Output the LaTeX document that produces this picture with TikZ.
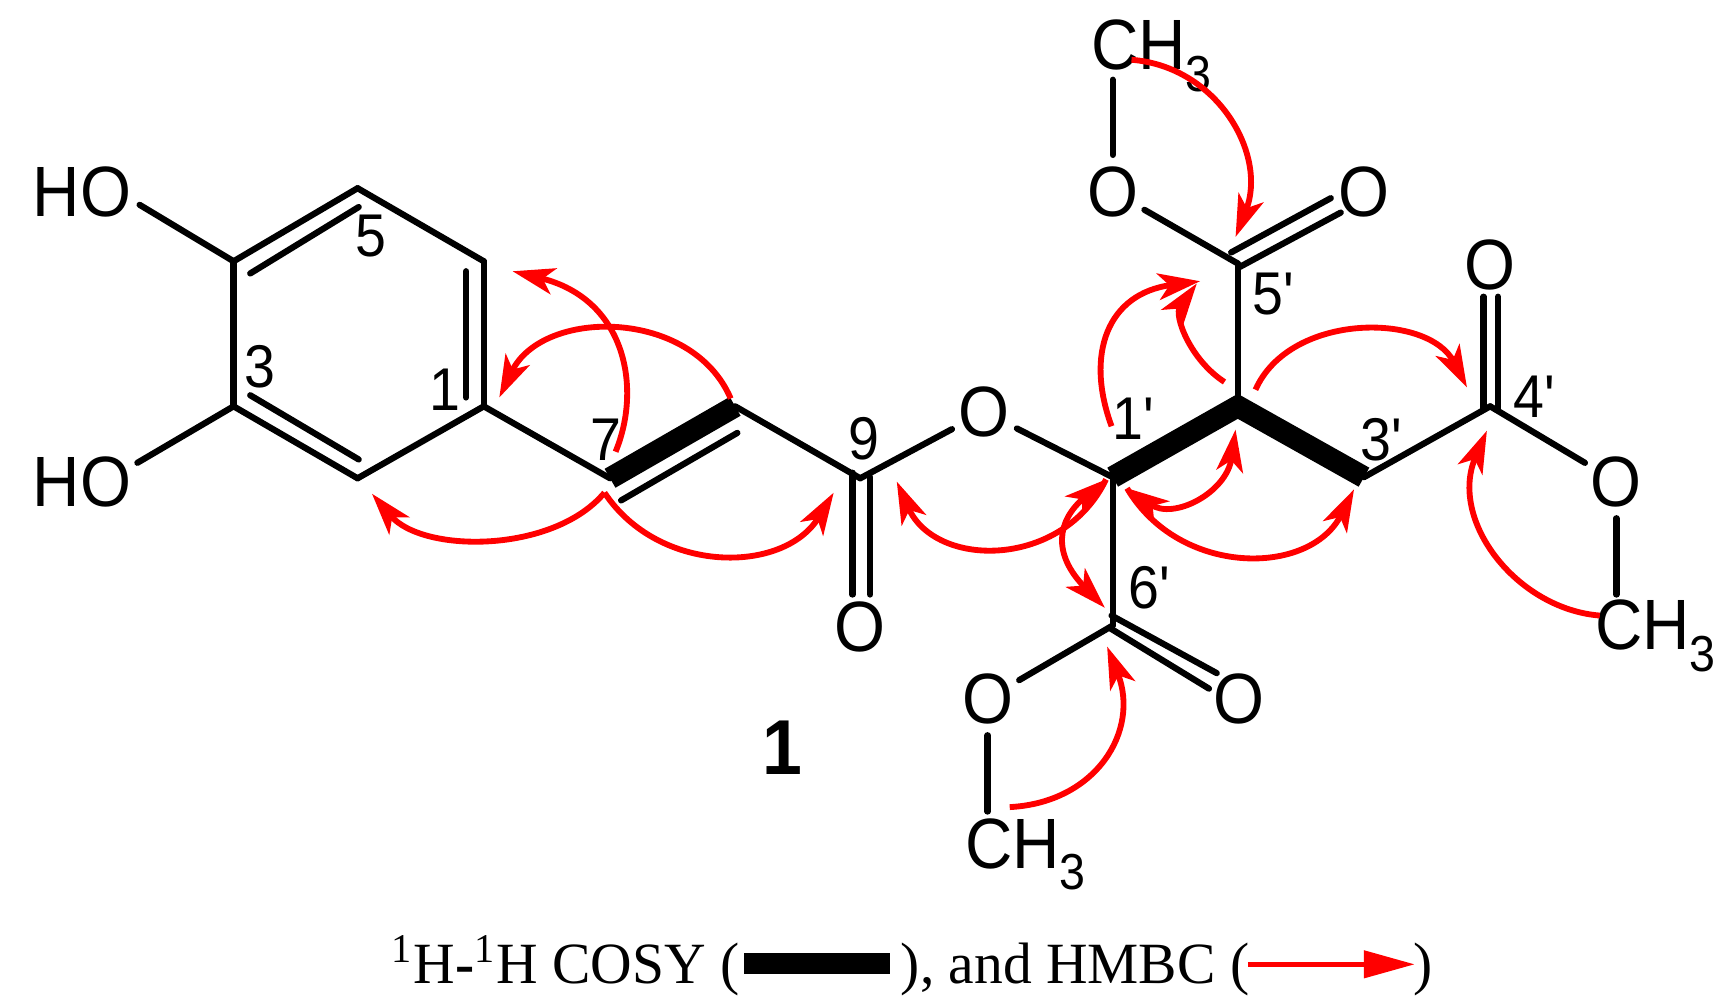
\documentclass[tikz,border=0pt]{standalone}
\usepackage{xcolor}
\usepackage{fontspec}
\usepackage{tikz}
\usetikzlibrary{arrows.meta}
\setmainfont[FakeStretch=0.985]{Liberation Serif}
\newfontfamily\chemfont[FakeStretch=0.92]{Liberation Sans}
\newcommand{\methyl}{CH\raisebox{-0.3em}{\fontsize{13}{13}\selectfont 3}}

\begin{document}
\begin{tikzpicture}[x=0.01cm, y=-0.01cm,
    every node/.style={inner sep=0pt},
    bond/.style={line width=1.6pt, line cap=round},
    cosy/.style={line width=5.6pt},
    hmbc/.style={line width=1.5pt, red},
    tipend/.style={-{Stealth[length=0.38cm, width=0.24cm, inset=0.1cm]}},
    tipboth/.style={{Stealth[length=0.38cm, width=0.24cm, inset=0.1cm]}-{Stealth[length=0.38cm, width=0.24cm, inset=0.1cm]}},
    oxygen/.style={circle, minimum size=0.62cm, font=\chemfont\fontsize{18.3}{20}\selectfont},
    atomlabel/.style={font=\chemfont\fontsize{18.3}{20}\selectfont},
    numlabel/.style={font=\chemfont\fontsize{15.5}{17}\selectfont},
    caption/.style={font=\fontsize{15}{18}\selectfont, anchor=base west}]
    \useasboundingbox (0,0) rectangle (1568,906);

    % Carbon atoms
    \foreach \nm/\x/\y in {c1/437/367, c2/323/432, c3/211/367, c4/211/236, c5/323/170, c6/437/236,
        c7/551/432, c8/664/367, c9/777/432, c1p/1005/431, c2p/1118/367, c3p/1232/431,
        c4p/1346/367, c5p/1118/238, c6p/1005/565}
        \coordinate (\nm) at (\x,\y);

    % Oxygen atoms and end groups
    \node[oxygen] (o9) at (777,566) {O};
    \node[oxygen] (oe) at (889,372) {O};
    \node[oxygen] (o5a) at (1005,173) {O};
    \node[oxygen] (o5b) at (1232,173) {O};
    \node[oxygen] (o4a) at (1346,239) {O};
    \node[oxygen] (o4b) at (1460,435) {O};
    \node[oxygen] (o6a) at (892,631) {O};
    \node[oxygen] (o6b) at (1119,631) {O};
    \node[atomlabel] (ho4) at (74,173) {HO};
    \node[atomlabel] (ho3) at (74,435) {HO};
    \node[atomlabel, anchor=base west] (me5) at (985,63) {\methyl};
    \node[atomlabel, anchor=base west] (me4) at (1440,587) {\methyl};
    \node[atomlabel, anchor=base west] (me6) at (871,784) {\methyl};
    \coordinate (me5end) at (1005,72);
    \coordinate (me4end) at (1460,537);
    \coordinate (me6end) at (892,733);

    % Single bonds
    \foreach \a/\b in {c1/c2, c3/c4, c5/c6, c1/c7, c8/c9, c9/oe, oe/c1p, c1p/c6p, c2p/c5p,
        c3p/c4p, c4p/o4b, o4b/me4end, o5a/c5p, o5a/me5end, c6p/o6a, o6a/me6end}
        \draw[bond] (\a) -- (\b);
    \draw[bond] (c3) -- ([shift={(5,-17)}]ho3.east);
    \draw[bond] (c4) -- ([shift={(7,12)}]ho4.east);

    % Double bonds, outer and inner lines
    \foreach \a/\b in {c1/c6, c2/c3, c4/c5}
        \draw[bond] (\a) -- (\b);
    \foreach \nm/\x/\y in {d1a/421/245, d1b/421/359, d2a/226/357, d2b/324/415, d3a/226/247, d3b/324/187,
        d4a/561/452, d4b/666/391, d5a/770/427, d5b/770/537, d6a/786/431, d6b/786/537,
        d7a/1112/228, d7b/1202/179, d8a/1120/241, d8b/1211/192,
        d9a/1340/369, d9b/1340/268, d10a/1353/369, d10b/1353/268,
        d11a/1002/567, d11b/1092/622, d12a/1004/556, d12b/1099/608}
        \coordinate (\nm) at (\x,\y);
    \foreach \a/\b in {d1a/d1b, d2a/d2b, d3a/d3b, d4a/d4b, d5a/d5b, d6a/d6b,
        d7a/d7b, d8a/d8b, d9a/d9b, d10a/d10b, d11a/d11b, d12a/d12b}
        \draw[bond] (\a) -- (\b);

    % COSY bonds
    \draw[cosy] (c7) -- (c8);
    \draw[cosy, miter limit=4] (c1p) -- (c2p) -- (c3p);

    % Atom numbers
    \foreach \nm/\x/\y/\txt in {n5/335/213/5, n3/235/331/3, n1/402/352/1, n7/547/397/7, n9/780/396/9,
        n1p/1024/378/1', n5p/1150/266/5', n4p/1386/358/4', n3p/1248/397/3', n6p/1038/531/6'}
        \node[numlabel] (\nm) at (\x,\y) {\txt};

    % End points of the HMBC arrows
    \foreach \nm/\x/\y in {h7a/556/408, h5a/463/245, h8a/660/360, h1a/451/359, h7b/546/445, h2a/336/446,
        h9a/753/445, h5b/1022/54, h5c/1116/214, h1b/1004/385, h5d/1084/254, h2b/1106/345, h5e/1081/256,
        h2c/1134/352, h4a/1325/350, h2d/1116/388, h1c/1018/441, h3a/1223/442, h1d/999/433, h9b/810/435,
        h6a/998/549, h6b/912/729, h6c/1000/584, h4b/1445/556, h4c/1343/389}
        \coordinate (\nm) at (\x,\y);

    % HMBC arrows
    \draw[hmbc, tipend] (h7a) .. controls (580,350) and (565,270) .. (h5a);
    \draw[hmbc, tipend] (h8a) .. controls (625,278) and (490,278) .. (h1a);
    \draw[hmbc, tipend] (h7b) .. controls (500,500) and (382,500) .. (h2a);
    \draw[hmbc, tipend] (h7b) .. controls (595,519) and (708,519) .. (h9a);
    \draw[hmbc, tipend] (h5b) .. controls (1100,60) and (1145,140) .. (h5c);
    \draw[hmbc, tipend] (h1b) .. controls (980,320) and (1000,265) .. (h5d);
    \draw[hmbc, tipend] (h2b) .. controls (1075,325) and (1060,285) .. (h5e);
    \draw[hmbc, tipend] (h2c) .. controls (1165,282) and (1290,282) .. (h4a);
    \draw[hmbc, tipboth] (h2d) .. controls (1108,445) and (1060,470) .. (h1c);
    \draw[hmbc, tipend] (h1c) .. controls (1065,521) and (1183,521) .. (h3a);
    \draw[hmbc, tipend] (h1d) .. controls (960,514) and (845,514) .. (h9b);
    \draw[hmbc, tipboth] (h1d) .. controls (955,470) and (950,500) .. (h6a);
    \draw[hmbc, tipend] (h6b) .. controls (990,725) and (1030,660) .. (h6c);
    \draw[hmbc, tipend] (h4b) .. controls (1370,550) and (1308,470) .. (h4c);

    % Compound number
    \node[font=\chemfont\bfseries\fontsize{20}{22}\selectfont] (cpd) at (707,675) {1};

    % Caption
    \node[caption] (capa) at (353,888) {\textsuperscript{1}H\textbf{-}\textsuperscript{1}H COSY (};
    \node[fill=black, minimum width=1.32cm, minimum height=0.19cm] (capbar) at (738,870) {};
    \node[caption] (capb) at (813,888) {), and HMBC (};
    \node[caption] (capc) at (1276,888) {)};
    \coordinate (capfrom) at (1127,871);
    \coordinate (capto) at (1278,871);
    \draw[red, line width=1.4pt, -{Stealth[length=0.46cm, width=0.24cm, inset=0pt]}] (capfrom) -- (capto);
\end{tikzpicture}
\end{document}
